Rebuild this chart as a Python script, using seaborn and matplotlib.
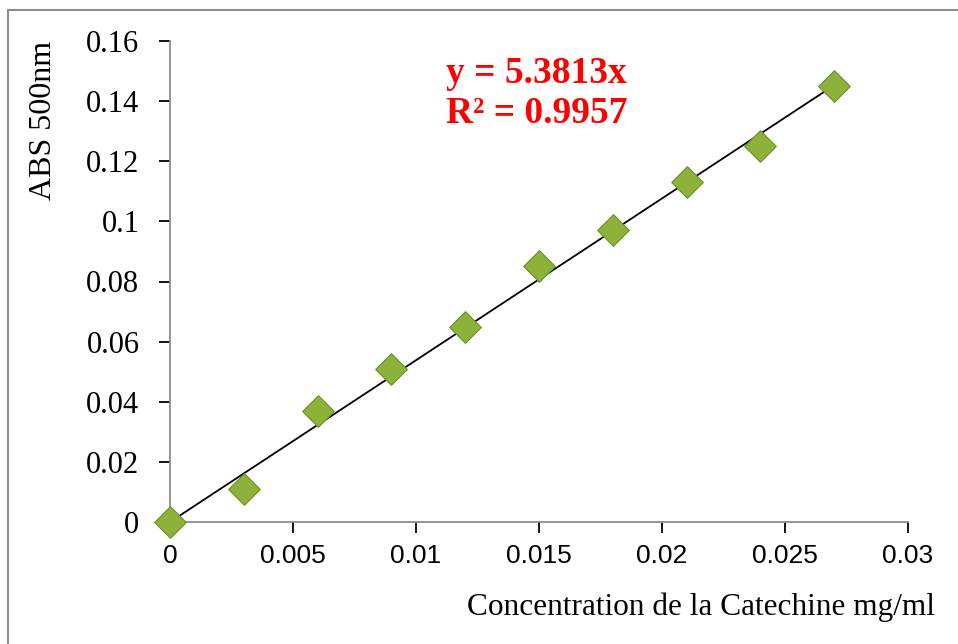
import numpy as np
import matplotlib
matplotlib.use("Agg")
import matplotlib.pyplot as plt
import seaborn as sns
import pandas as pd
from matplotlib.lines import Line2D

concentration = [0, 0.003, 0.006, 0.009, 0.012, 0.015, 0.018, 0.021, 0.024, 0.027]
absorbance = [0, 0.011, 0.037, 0.051, 0.065, 0.085, 0.097, 0.113, 0.125, 0.145]
slope = 5.3813
equation_text = "y = 5.3813x\nR² = 0.9957"
x_ticks = [0, 0.005, 0.01, 0.015, 0.02, 0.025, 0.03]
x_tick_labels = ["0", "0.005", "0.01", "0.015", "0.02", "0.025", "0.03"]
y_ticks = [0, 0.02, 0.04, 0.06, 0.08, 0.1, 0.12, 0.14, 0.16]
y_tick_labels = ["0", "0.02", "0.04", "0.06", "0.08", "0.1", "0.12", "0.14", "0.16"]

df = pd.DataFrame({"x": concentration, "y": absorbance})

sns.set_theme(style="white")
plt.rcParams["font.family"] = ["Liberation Serif", "DejaVu Serif"]
plt.rcParams["text.color"] = "black"
plt.rcParams["axes.labelcolor"] = "black"
plt.rcParams["xtick.color"] = "black"
plt.rcParams["ytick.color"] = "black"

W, H = 958, 644
fig = plt.figure(figsize=(W / 100, H / 100), dpi=100)
ax = fig.add_axes([170 / W, 1 - 522 / H, (908 - 170) / W, (522 - 41) / H])

# trendline
xs = np.array([concentration[0], concentration[-1]])
ax.plot(xs, slope * xs, color="black", lw=1.3, zorder=2)

sns.scatterplot(data=df, x="x", y="y", marker="D", s=260, color="#8CB23A",
                edgecolor="#6E8F2A", linewidth=0.8, ax=ax, zorder=3, clip_on=False)

ax.set_xlim(0, 0.03)
ax.set_ylim(0, 0.16)
ax.set_xticks(x_ticks)
ax.set_xticklabels(x_tick_labels, fontfamily="Liberation Sans", fontsize=19)
ax.set_yticks(y_ticks)
ax.set_yticklabels(y_tick_labels, fontfamily="Liberation Serif", fontsize=22)

for side in ["top", "right"]:
    ax.spines[side].set_visible(False)
for side in ["left", "bottom"]:
    ax.spines[side].set_color("#8C8C8C")
    ax.spines[side].set_linewidth(1.3)

ax.tick_params(axis="both", direction="out", length=8, width=1.3,
               left=True, bottom=True, labelcolor="black")
ax.tick_params(axis="x", pad=8)
ax.tick_params(axis="y", pad=14)
for t in ax.get_xticklines() + ax.get_yticklines():
    t.set_color("#8C8C8C")

ax.set_xlabel("")
ax.set_ylabel("ABS 500nm", fontsize=23, fontfamily="Liberation Serif", color="black")
ax.yaxis.set_label_coords(-0.152, 0.835)

fig.text(935 / W, 1 - 607 / H, "Concentration de la Catechine mg/ml",
         ha="right", va="center", fontsize=22.5, fontfamily="Liberation Serif",
         color="black")

ax.text(0.0112, 0.1425, equation_text, color="#FF0000", fontsize=27,
        fontweight="bold", fontfamily="Liberation Serif", ha="left", va="center",
        linespacing=1.2)

# outer frame (top and left visible)
fig.add_artist(Line2D([8 / W, 8 / W], [0, 1 - 10 / H], transform=fig.transFigure,
                      color="#8C8C8C", lw=1.5))
fig.add_artist(Line2D([8 / W, 1], [1 - 10 / H, 1 - 10 / H], transform=fig.transFigure,
                      color="#8C8C8C", lw=1.5))

fig.savefig("out.png", dpi=100)
